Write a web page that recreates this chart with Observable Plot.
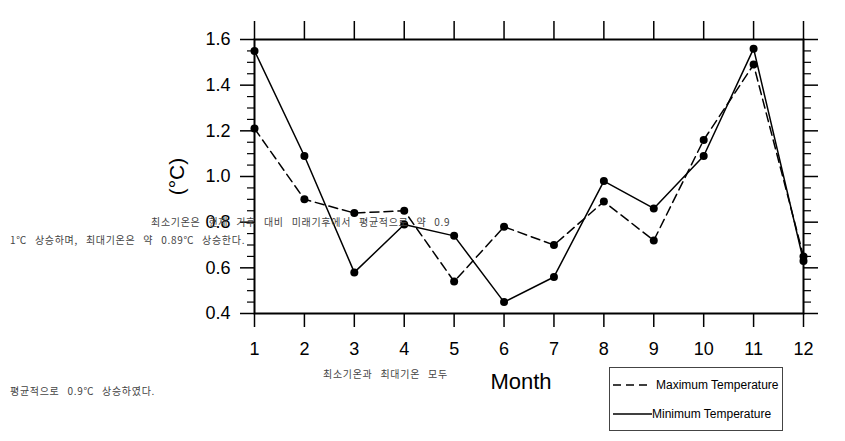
<!DOCTYPE html>
<html><head><meta charset="utf-8">
<script src="https://cdn.jsdelivr.net/npm/d3@7"></script>
<script src="https://cdn.jsdelivr.net/npm/@observablehq/plot@0.6"></script>
<style>
body{margin:0;background:#fff;}
#wrap{position:relative;width:845px;height:441px;overflow:hidden;font-family:"Liberation Sans",Arial,sans-serif;}
.kr{position:absolute;font-family:"Noto Sans CJK KR",sans-serif;font-size:10px;color:#444;white-space:nowrap;word-spacing:5px;letter-spacing:0.7px;line-height:12px;}
#legend{position:absolute;left:609px;top:367px;width:172px;height:62px;border:1px solid #444;background:#fff;font-size:12px;}
#legend .row{position:absolute;left:2px;display:flex;align-items:center;}
</style>
</head><body>
<div id="wrap">
  <div id="chart"></div>
  <div id="legend">
    <div class="row" style="top:10px"><svg width="40" height="10"><line x1="1" y1="5" x2="38" y2="5" stroke="#000" stroke-width="1.5" stroke-dasharray="8,5"/></svg><span style="margin-left:4px">Maximum Temperature</span></div>
    <div class="row" style="top:39px"><svg width="40" height="10"><line x1="1" y1="5" x2="40" y2="5" stroke="#000" stroke-width="1.5"/></svg><span>Minimum Temperature</span></div>
  </div>
</div>
<script>
const months = [1,2,3,4,5,6,7,8,9,10,11,12];
const maxTemp = [1.21,0.90,0.84,0.85,0.54,0.78,0.70,0.89,0.72,1.16,1.49,0.65];
const minTemp = [1.55,1.09,0.58,0.79,0.74,0.45,0.56,0.98,0.86,1.09,1.56,0.63];
const yMajor = [0.4,0.6,0.8,1.0,1.2,1.4,1.6];
const yMinor = [0.45,0.5,0.55,0.65,0.7,0.75,0.85,0.9,0.95,1.05,1.1,1.15,1.25,1.3,1.35,1.45,1.5,1.55];
const seriesNames = ["Maximum Temperature","Minimum Temperature"];
const krTexts = [
  "최소기온은 현재 기후 대비 미래기후에서 평균적으로 약 0.9",
  "1℃ 상승하며, 최대기온은 약 0.89℃ 상승한다.",
  "최소기온과 최대기온 모두",
  "평균적으로 0.9℃ 상승하였다."
];

const maxData = months.map((m,i)=>({month:m, value:maxTemp[i]}));
const minData = months.map((m,i)=>({month:m, value:minTemp[i]}));

const chart = Plot.plot({
  width: 845, height: 441,
  marginLeft: 254, marginRight: 42, marginTop: 39, marginBottom: 128,
  style: {fontFamily: "'Liberation Sans', Arial, sans-serif", color: "#000", background: "transparent"},
  x: {domain: [1,12]},
  y: {domain: [0.4,1.6]},
  marks: [
    Plot.axisY({ticks: yMajor, tickSize: 14, tickPadding: 10, tickFormat: d3.format(".1f"), fontSize: 18, strokeWidth: 1.5, label: null}),
    Plot.axisY({ticks: yMinor, tickSize: 7, tickFormat: null, text: null, strokeWidth: 1.2, label: null}),
    Plot.axisY({anchor: "right", ticks: yMajor, tickSize: 14, tickFormat: () => "", strokeWidth: 1.5, label: null}),
    Plot.axisY({anchor: "right", ticks: yMinor, tickSize: 7, tickFormat: () => "", strokeWidth: 1.2, label: null}),
    Plot.axisX({ticks: months, tickSize: 14, tickPadding: 15, fontSize: 18, strokeWidth: 1.5, label: null}),
    Plot.axisX({anchor: "top", ticks: months, tickSize: 19, tickFormat: () => "", strokeWidth: 1.5, label: null}),
    Plot.frame({strokeWidth: 2}),
    Plot.line(maxData, {x: "month", y: "value", stroke: "#000", strokeWidth: 1.5, strokeDasharray: "9,5"}),
    Plot.line(minData, {x: "month", y: "value", stroke: "#000", strokeWidth: 1.5}),
    Plot.dot(maxData, {x: "month", y: "value", r: 4, fill: "#000"}),
    Plot.dot(minData, {x: "month", y: "value", r: 4, fill: "#000"}),
    Plot.text(["(°C)"], {frameAnchor: "left", textAnchor: "middle", lineAnchor: "middle", dx: -77, rotate: -90, fontSize: 21, fill: "#000"}),
    Plot.text(["Month"], {frameAnchor: "bottom", textAnchor: "middle", lineAnchor: "middle", dy: 68, dx: -8, fontSize: 22, fill: "#000"})
  ]
});
document.getElementById("chart").appendChild(chart);

const pos = [[151,216],[10,234],[323,368],[10,385]];
krTexts.forEach((t,i)=>{
  const d = document.createElement("div");
  d.className = "kr";
  d.textContent = t;
  d.style.left = pos[i][0]+"px";
  d.style.top = pos[i][1]+"px";
  document.getElementById("wrap").appendChild(d);
});
</script>
</body></html>
